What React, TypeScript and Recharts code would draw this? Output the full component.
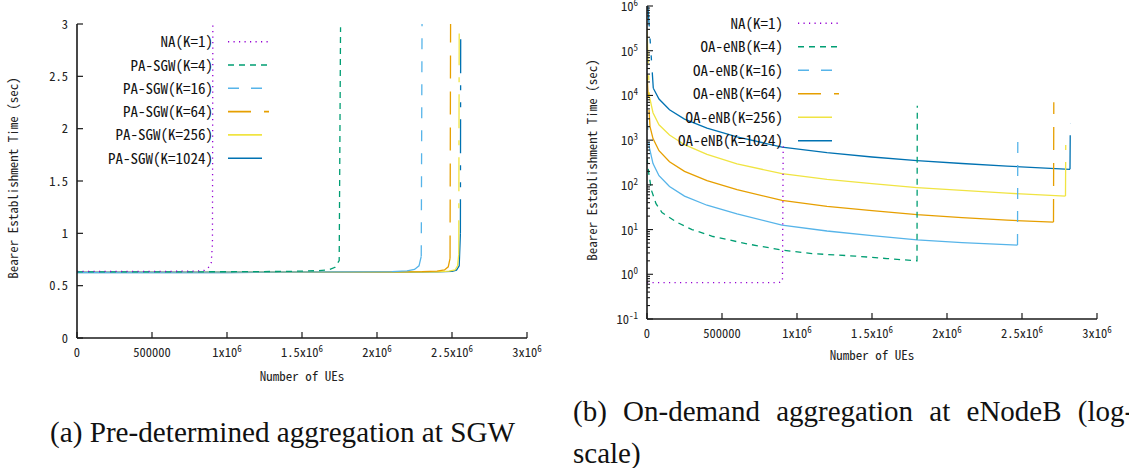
import React from 'react';
import { LineChart, Line, XAxis, YAxis } from 'recharts';

const FONT = "'Noto Sans Mono CJK JP', 'Noto Sans CJK JP', 'DejaVu Sans Mono', monospace";
const SERIF = "'Liberation Serif', 'Times New Roman', serif";

// ---------- axis ticks ----------
const xTicks = [0, 500000, 1000000, 1500000, 2000000, 2500000, 3000000];
const xTickLabels = ['0', '500000', '1x10^6', '1.5x10^6', '2x10^6', '2.5x10^6', '3x10^6'];
const yTicksA = [0, 0.5, 1, 1.5, 2, 2.5, 3];
const yTickLabelsA = ['0', '0.5', '1', '1.5', '2', '2.5', '3'];
const yTicksB = [0.1, 1, 10, 100, 1000, 10000, 100000, 1000000];
const yTickLabelsB = ['10^-1', '10^0', '10^1', '10^2', '10^3', '10^4', '10^5', '10^6'];
const minorMultipliers = [2, 3, 4, 5, 6, 7, 8, 9];

// ---------- legend names ----------
const namesA = ['NA(K=1)', 'PA-SGW(K=4)', 'PA-SGW(K=16)', 'PA-SGW(K=64)', 'PA-SGW(K=256)', 'PA-SGW(K=1024)'];
const namesB = ['NA(K=1)', 'OA-eNB(K=4)', 'OA-eNB(K=16)', 'OA-eNB(K=64)', 'OA-eNB(K=256)', 'OA-eNB(K=1024)'];

// ---------- (a) Pre-determined aggregation at SGW ----------
const naA_x = [0, 300000, 600000, 800000, 850000, 873000, 895000, 903000, 906000];
const naA_y = [0.636, 0.636, 0.637, 0.64, 0.647, 0.665, 0.72, 0.9, 3.3];
const k4A_x = [0, 500000, 1000000, 1400000, 1600000, 1680000, 1720000, 1748000, 1757000];
const k4A_y = [0.632, 0.632, 0.633, 0.636, 0.643, 0.652, 0.675, 0.74, 2.97];
const k16A_x = [0, 1000000, 1800000, 2100000, 2200000, 2250000, 2280000, 2295000, 2301000];
const k16A_y = [0.628, 0.629, 0.631, 0.635, 0.641, 0.655, 0.69, 0.78, 3.3];
const k64A_x = [0, 1000000, 2000000, 2300000, 2400000, 2450000, 2475000, 2487000, 2491000];
const k64A_y = [0.628, 0.628, 0.631, 0.634, 0.639, 0.65, 0.68, 0.76, 3.3];
const k256A_x = [0, 1000000, 2000000, 2400000, 2480000, 2520000, 2537000, 2545000, 2548000];
const k256A_y = [0.627, 0.627, 0.63, 0.633, 0.638, 0.65, 0.69, 0.8, 2.91];
const k1024A_x = [0, 1000000, 2000000, 2400000, 2500000, 2530000, 2548000, 2556000, 2558000];
const k1024A_y = [0.626, 0.626, 0.628, 0.632, 0.637, 0.648, 0.69, 1.0, 2.93];

// ---------- (b) On-demand aggregation at eNodeB (log) ----------
const naB_x = [0, 300000, 600000, 850000, 885000, 903000, 908000];
const naB_y = [0.65, 0.65, 0.65, 0.652, 0.66, 0.7, 800];
const k4B_x = [0, 10000, 30000, 60000, 100000, 200000, 300000, 440000, 680000, 910000, 1100000, 1390000, 1600000, 1800000, 1802000];
const k4B_y = [400, 200, 75, 38, 24, 14.5, 10, 7, 4.7, 3.45, 2.9, 2.55, 2.25, 2.0, 5900];
const k16B_x = [0, 15000, 40000, 80000, 150000, 250000, 400000, 600000, 900000, 1200000, 1500000, 1800000, 2100000, 2470000, 2472000];
const k16B_y = [3000, 700, 300, 160, 92, 56, 35, 22.5, 12.6, 9.3, 7.3, 5.9, 5.1, 4.5, 1100];
const k64B_x = [0, 20000, 40000, 80000, 150000, 250000, 400000, 600000, 900000, 1200000, 1500000, 1800000, 2100000, 2400000, 2710000, 2712000];
const k64B_y = [30000, 2000, 1080, 580, 330, 200, 124, 78, 45, 33, 26.5, 21.5, 18.5, 16.2, 14.7, 7000];
const k256B_x = [0, 16000, 40000, 80000, 150000, 250000, 400000, 600000, 900000, 1200000, 1500000, 1800000, 2100000, 2400000, 2790000, 2792000];
const k256B_y = [300000, 9500, 4100, 2200, 1300, 790, 480, 295, 178, 132, 106, 87, 75, 65, 56, 1450];
const k1024B_x = [0, 42000, 80000, 150000, 250000, 400000, 600000, 900000, 1200000, 1500000, 1800000, 2100000, 2400000, 2820000, 2822000];
const k1024B_y = [2000000, 14500, 8300, 4800, 2950, 1850, 1180, 700, 525, 420, 348, 300, 262, 222, 2400];

type Pt = { x: number; y: number };
const pts = (xs: number[], ys: number[]): Pt[] => xs.map((x, i) => ({ x, y: ys[i] }));

const dataA: Pt[][] = [
  pts(naA_x, naA_y), pts(k4A_x, k4A_y), pts(k16A_x, k16A_y),
  pts(k64A_x, k64A_y), pts(k256A_x, k256A_y), pts(k1024A_x, k1024A_y),
];
const dataB: Pt[][] = [
  pts(naB_x, naB_y), pts(k4B_x, k4B_y), pts(k16B_x, k16B_y),
  pts(k64B_x, k64B_y), pts(k256B_x, k256B_y), pts(k1024B_x, k1024B_y),
];

const colors = ['#9400d3', '#009e73', '#56b4e9', '#e69f00', '#f0e442', '#0072b2'];
const dashes = ['1.2 4.3', '6 5', '11 12', '23 13', '34 12 5 12', '34 12 5 12 5 12'];
const wholeDashed = [true, true, false, false, false, false];

const AX = '#1a1a1a';

function seriesLines(prefix: string, data: Pt[][], lead: boolean) {
  const out: any[] = [];
  for (let i = data.length - 1; i >= 0; i--) {
    const d = data[i];
    const n = d.length;
    const common: any = {
      type: 'linear', dataKey: 'y', xAxisId: 'b', yAxisId: 'l', stroke: colors[i],
      strokeWidth: 1.3, dot: false, activeDot: false, isAnimationActive: false, legendType: 'none',
    };
    if (wholeDashed[i]) {
      out.push(<Line key={`${prefix}-${i}`} data={d} strokeDasharray={dashes[i]} {...common} />);
    } else {
      const s = lead ? 1 : 0;
      out.push(<Line key={`${prefix}-${i}-body`} data={d.slice(s, n - 1)} {...common} />);
      out.push(<Line key={`${prefix}-${i}-tail`} data={d.slice(n - 2)} strokeDasharray={dashes[i]} {...common} />);
      if (lead) out.push(<Line key={`${prefix}-${i}-lead`} data={d.slice(0, 2)} strokeDasharray={dashes[i]} {...common} />);
    }
  }
  return out;
}

function SupText({ x, y, label, anchor, size }: { x: number; y: number; label: string; anchor: string; size: number }) {
  const [base, sup] = label.split('^');
  return (
    <text x={x} y={y} textAnchor={anchor as any} fontFamily={FONT} fontSize={size} fill="#222">
      {base}
      {sup !== undefined && <tspan dy={-5} fontSize={size * 0.72}>{sup}</tspan>}
    </text>
  );
}

const xTickBottom = (p: any) => {
  const i = xTicks.indexOf(p.payload.value);
  return (
    <g>
      <line x1={p.x} x2={p.x} y1={p.y} y2={p.y - 6} stroke={AX} strokeWidth={1.2} />
      <SupText x={p.x} y={p.y + 18.5} label={xTickLabels[i] ?? ''} anchor="middle" size={12.5} />
    </g>
  );
};
const xTickTop = (p: any) => (
  <line x1={p.x} x2={p.x} y1={p.y} y2={p.y + 6} stroke={AX} strokeWidth={1.2} />
);
const yTickLeftA = (p: any) => {
  const i = yTicksA.indexOf(p.payload.value);
  return (
    <g>
      <line x1={p.x} x2={p.x + 6} y1={p.y} y2={p.y} stroke={AX} strokeWidth={1.2} />
      <SupText x={p.x - 9} y={p.y + 4.5} label={yTickLabelsA[i] ?? ''} anchor="end" size={12.5} />
    </g>
  );
};
const yTickRightA = (p: any) => (
  <line x1={p.x} x2={p.x - 6} y1={p.y} y2={p.y} stroke={AX} strokeWidth={1.2} />
);
const isMajorB = (v: number) => yTicksB.some((t) => Math.abs(t - v) / t < 1e-6);
const yTickLeftB = (p: any) => {
  const v = p.payload.value;
  const major = isMajorB(v);
  const i = yTicksB.findIndex((t) => Math.abs(t - v) / t < 1e-6);
  return (
    <g>
      <line x1={p.x} x2={p.x + (major ? 6 : 3)} y1={p.y} y2={p.y} stroke={AX} strokeWidth={1.1} />
      {major && <SupText x={p.x - 9} y={p.y + 5} label={yTickLabelsB[i]} anchor="end" size={12.5} />}
    </g>
  );
};
const yTickRightB = (p: any) => {
  const major = isMajorB(p.payload.value);
  return <line x1={p.x} x2={p.x - (major ? 6 : 3)} y1={p.y} y2={p.y} stroke={AX} strokeWidth={1.1} />;
};

const allTicksB: number[] = [];
yTicksB.forEach((t, k) => {
  allTicksB.push(t);
  if (k < yTicksB.length - 1) minorMultipliers.forEach((m) => allTicksB.push(t * m));
});

const axisLine = { stroke: AX, strokeWidth: 1.6 };

function ChartA() {
  return (
    <LineChart width={560} height={390} margin={{ top: 24, right: 33, bottom: 12, left: 0 }}>
      <XAxis xAxisId="b" type="number" dataKey="x" domain={[0, 3000000]} ticks={xTicks} interval={0}
        allowDataOverflow height={40} tickSize={0} tickMargin={0} tickLine={false} axisLine={axisLine} tick={xTickBottom} />
      <XAxis xAxisId="t" orientation="top" type="number" dataKey="x" domain={[0, 3000000]} ticks={xTicks} interval={0}
        allowDataOverflow height={0} tickSize={0} tickMargin={0} tickLine={false} axisLine={axisLine} tick={xTickTop} />
      <YAxis yAxisId="l" type="number" domain={[0, 3]} ticks={yTicksA} interval={0} allowDataOverflow width={77}
        tickSize={0} tickMargin={0} tickLine={false} axisLine={axisLine} tick={yTickLeftA} />
      <YAxis yAxisId="r" orientation="right" type="number" domain={[0, 3]} ticks={yTicksA} interval={0} allowDataOverflow width={0}
        tickSize={0} tickMargin={0} tickLine={false} axisLine={axisLine} tick={yTickRightA} />
      {seriesLines('a', dataA, false)}
    </LineChart>
  );
}

function ChartB() {
  return (
    <LineChart width={560} height={390} margin={{ top: 6, right: 33, bottom: 31, left: 0 }}>
      <XAxis xAxisId="b" type="number" dataKey="x" domain={[0, 3000000]} ticks={xTicks} interval={0}
        allowDataOverflow height={40} tickSize={0} tickMargin={0} tickLine={false} axisLine={axisLine} tick={xTickBottom} />
      <XAxis xAxisId="t" orientation="top" type="number" dataKey="x" domain={[0, 3000000]} ticks={xTicks} interval={0}
        allowDataOverflow height={0} tickSize={0} tickMargin={0} tickLine={false} axisLine={axisLine} tick={xTickTop} />
      <YAxis yAxisId="l" type="number" scale="log" domain={[0.1, 1000000]} ticks={allTicksB} interval={0} allowDataOverflow width={77}
        tickSize={0} tickMargin={0} tickLine={false} axisLine={axisLine} tick={yTickLeftB} />
      <YAxis yAxisId="r" orientation="right" type="number" scale="log" domain={[0.1, 1000000]} ticks={allTicksB} interval={0} allowDataOverflow width={0}
        tickSize={0} tickMargin={0} tickLine={false} axisLine={axisLine} tick={yTickRightB} />
      {seriesLines('b', dataB, true)}
    </LineChart>
  );
}

function LegendBlock({ names, right, top, dy, sx1, sx2 }: { names: string[]; right: number; top: number; dy: number; sx1: number; sx2: number }) {
  return (
    <g>
      {names.map((nm, i) => {
        const y = top + i * dy;
        return (
          <g key={nm}>
            <text x={right} y={y + 5.5} textAnchor="end" fontFamily={FONT} fontSize={15} fill="#111">{nm}</text>
            <line x1={sx1} x2={sx2} y1={y} y2={y} stroke={colors[i]} strokeWidth={1.6} strokeDasharray={dashes[i]} />
          </g>
        );
      })}
    </g>
  );
}

export default function App() {
  return (
    <div style={{ position: 'absolute', left: 0, top: 0, width: 1129, height: 468, overflow: 'hidden', background: '#fff' }}>
      <div style={{ position: 'absolute', left: 0, top: 0 }}><ChartA /></div>
      <div style={{ position: 'absolute', left: 570, top: 0 }}><ChartB /></div>
      <svg width={1129} height={468} style={{ position: 'absolute', left: 0, top: 0, pointerEvents: 'none' }}>
        <LegendBlock names={namesA} right={213} top={41.7} dy={23.3} sx1={228} sx2={269} />
        <LegendBlock names={namesB} right={783} top={23.3} dy={23.5} sx1={798} sx2={839} />
        <text x={0} y={0} transform="translate(18,178) rotate(-90)" textAnchor="middle" fontFamily={FONT} fontSize={13} fill="#222">Bearer Establishment Time (sec)</text>
        <text x={0} y={0} transform="translate(597,160) rotate(-90)" textAnchor="middle" fontFamily={FONT} fontSize={13} fill="#222">Bearer Establishment Time (sec)</text>
        <text x={302} y={381} textAnchor="middle" fontFamily={FONT} fontSize={13} fill="#222">Number of UEs</text>
        <text x={872} y={360} textAnchor="middle" fontFamily={FONT} fontSize={13} fill="#222">Number of UEs</text>
        <text x={50} y={442} textLength={465} lengthAdjust="spacingAndGlyphs" fontFamily={SERIF} fontSize={29} fill="#111">(a) Pre-determined aggregation at SGW</text>
        <text x={573} y={421} fontFamily={SERIF} fontSize={29} fill="#111" style={{ wordSpacing: '9px' }}>(b) On-demand aggregation at eNodeB (log-</text>
        <text x={573} y={463} fontFamily={SERIF} fontSize={29} fill="#111">scale)</text>
      </svg>
    </div>
  );
}
